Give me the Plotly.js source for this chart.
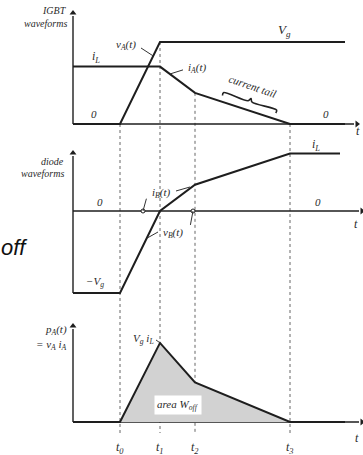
<!DOCTYPE html>
<html><head><meta charset="utf-8">
<script src="https://cdn.plot.ly/plotly-3.0.1.min.js"></script>
<style>html,body{margin:0;padding:0;background:#fff}#chart{width:363px;height:455px}</style>
</head><body><div id="chart"></div>
<script>
// Switching instants (time units) and their labels
const tNames = ['t<sub>0</sub>', 't<sub>1</sub>', 't<sub>2</sub>', 't<sub>3</sub>'];
const tVals = [0, 1, 1.875, 4.25];

// IGBT waveforms (normalised: Vg = 1)
const vA_t = [-1.175, 0, 1, 5.625];
const vA = [0, 0, 1, 1];
const iA_t = [-1.175, 1, 1.875, 4.25, 5.625];
const iA = [0.7, 0.7, 0.38, 0, 0];

// Diode waveform: vB(t) up to t1, then iB(t)
const d_t = [-1.175, 0, 1, 1.875, 4.25, 5.5];
const d_v = [-1, -1, 0, 0.32, 0.7, 0.7];

// Instantaneous IGBT power pA = vA * iA
const p_t = [-1.175, 0, 1, 1.875, 4.25, 5.625];
const p_v = [0, 0, 0.7, 0.35, 0, 0];

// ---- geometry of the three stacked panels (pixels) ----
const W = 363, H = 455;
const X0 = -3, XPX = 40;                 // x range start, pixels per time unit
const panels = {
  y:  {base: 124, scale: 82},            // IGBT
  y2: {base: 211, scale: 82},            // diode
  y3: {base: 422, scale: 113}            // power
};
const yRange = p => [-(H - p.base) / p.scale, p.base / p.scale];
const pxY = (ax, py) => (panels[ax].base - py) / panels[ax].scale;
const pxX = px => px / XPX + X0;
const yPx = (ax, v) => panels[ax].base - v * panels[ax].scale;
const xPx = v => (v - X0) * XPX;

const ink = '#1e1e1e';
const serif = {family: 'Liberation Serif, Times New Roman, serif', color: '#2a2a2a', style: 'italic'};
const f = size => Object.assign({size}, serif);

const traces = [];

// axes: lines from the origin plus a triangular head
const xStart = -1.175;
const axisLines = [
  ['y', pxY('y', 16), pxX(354)],
  ['y2', pxY('y2', 156), pxX(359)],
  ['y3', pxY('y3', 329), pxX(359)]
];
const axisBottoms = {y: 0, y2: pxY('y2', 293), y3: 0};
axisLines.forEach(([ax, yTop, xEnd]) => {
  traces.push({x: [xStart, xStart], y: [axisBottoms[ax], yTop], yaxis: ax, mode: 'lines',
    line: {color: ink, width: 1.4}, hoverinfo: 'skip'});
  traces.push({x: [xStart, xEnd], y: [0, 0], yaxis: ax, mode: 'lines',
    line: {color: ink, width: 1.4}, hoverinfo: 'skip'});
  traces.push({x: [xStart, xEnd + 3 / XPX], y: [yTop + 3 / panels[ax].scale, 0], yaxis: ax,
    mode: 'markers', hoverinfo: 'skip',
    marker: {symbol: ['triangle-up', 'triangle-right'], size: 6, color: ink, line: {width: 0}}});
});

traces.push(
  {x: p_t, y: p_v, yaxis: 'y3', mode: 'lines', fill: 'tozeroy', fillcolor: '#d2d2d2',
   line: {color: ink, width: 2}, hoverinfo: 'skip'},
  {x: vA_t, y: vA, yaxis: 'y', mode: 'lines', line: {color: ink, width: 2}, hoverinfo: 'skip'},
  {x: iA_t, y: iA, yaxis: 'y', mode: 'lines', line: {color: ink, width: 2}, hoverinfo: 'skip'},
  {x: d_t, y: d_v, yaxis: 'y2', mode: 'lines', line: {color: ink, width: 2}, hoverinfo: 'skip'}
);

// small marker circles on the diode time axis
traces.push({x: [0.575, 1.825], y: [0, 0], yaxis: 'y2', mode: 'markers',
  marker: {size: 4, color: '#fff', line: {color: ink, width: 1}}, hoverinfo: 'skip'});

// thin leader lines from labels to curves
const leaders = [
  ['y', 0.525, 0.927, 0.83, 0.83],
  ['y', 1.575, 0.66, 1.25, 0.61],
  ['y2', 1.4, 0.244, 1.75, 0.293],
  ['y2', 0.575, 0.0, 0.66, 0.15],
  ['y2', 0.95, -0.256, 0.68, -0.33],
  ['y2', 1.825, 0.0, 1.76, -0.17],
  ['y3', 0.9, 0.726, 1.0, 0.7]
];
leaders.forEach(([ax, x0, y0, x1, y1]) => traces.push({
  x: [x0, x1], y: [y0, y1], yaxis: ax, mode: 'lines',
  line: {color: '#333', width: 1}, hoverinfo: 'skip'}));

// brace marking the current tail, offset from the t2..t3 segment
(function () {
  const ax = 'y';
  const A = [xPx(tVals[2]), yPx(ax, iA[2])], B = [xPx(tVals[3]), yPx(ax, 0)];
  const dx = B[0] - A[0], dy = B[1] - A[1], L = Math.hypot(dx, dy);
  const u = [dx / L, dy / L], up = [u[1], -u[0]];
  const off = 9, a = 0.27, b = 0.83, h = 3;
  const P = s => [A[0] + dx * s + up[0] * off, A[1] + dy * s + up[1] * off];
  const S = P(a), E = P(b), M = P((a + b) / 2);
  const pts = [
    [S[0] - up[0] * h, S[1] - up[1] * h], S,
    [M[0] - u[0] * 2, M[1] - u[1] * 2], [M[0] + up[0] * h, M[1] + up[1] * h],
    [M[0] + u[0] * 2, M[1] + u[1] * 2], E, [E[0] - up[0] * h, E[1] - up[1] * h]
  ];
  traces.push({x: pts.map(p => pxX(p[0])), y: pts.map(p => pxY(ax, p[1])), yaxis: ax,
    mode: 'lines', line: {color: '#222', width: 1.6, shape: 'spline'}, hoverinfo: 'skip'});
})();

const label = (ax, x, y, text, size, opts) => Object.assign({
  xref: 'x', yref: ax, x, y, text, showarrow: false, font: f(size)
}, opts || {});

const annotations = [
  // IGBT panel
  label('y', pxX(69), pxY('y', 10), 'IGBT', 10, {xanchor: 'right'}),
  label('y', pxX(69), pxY('y', 23), 'waveforms', 10, {xanchor: 'right'}),
  label('y', pxX(284), pxY('y', 30), 'V<sub>g</sub>', 13),
  label('y', pxX(96), pxY('y', 57), 'i<sub>L</sub>', 12),
  label('y', pxX(126), pxY('y', 45), 'v<sub>A</sub>(t)', 11),
  label('y', pxX(197), pxY('y', 68), 'i<sub>A</sub>(t)', 11),
  label('y', pxX(252), pxY('y', 86), 'current tail', 11, {textangle: 19}),
  label('y', pxX(94), pxY('y', 114), '0', 11),
  label('y', pxX(326), pxY('y', 114), '0', 11),
  label('y', pxX(358), pxY('y', 131), 't', 12),
  // diode panel
  label('y2', pxX(66), pxY('y2', 161), 'diode', 10, {xanchor: 'right'}),
  label('y2', pxX(66), pxY('y2', 173), 'waveforms', 10, {xanchor: 'right'}),
  label('y2', pxX(100), pxY('y2', 202), '0', 11),
  label('y2', pxX(318), pxY('y2', 202), '0', 11),
  label('y2', pxX(316), pxY('y2', 145), 'i<sub>L</sub>', 12),
  label('y2', pxX(95), pxY('y2', 282), '\u2212V<sub>g</sub>', 11),
  label('y2', pxX(161), pxY('y2', 193), 'i<sub>B</sub>(t)', 11),
  label('y2', pxX(173), pxY('y2', 233), 'v<sub>B</sub>(t)', 11),
  label('y2', pxX(356), pxY('y2', 224), 't', 12),
  // power panel
  label('y3', pxX(69), pxY('y3', 330), 'p<sub>A</sub>(t)', 11, {xanchor: 'right'}),
  label('y3', pxX(69), pxY('y3', 345), '= v<sub>A</sub> i<sub>A</sub>', 11, {xanchor: 'right'}),
  label('y3', pxX(156), pxY('y3', 339), 'V<sub>g</sub> i<sub>L</sub>', 11, {xanchor: 'right'}),
  label('y3', pxX(178), pxY('y3', 405), 'area W<sub>off</sub>', 11, {bgcolor: '#fff', borderpad: 2}),
  label('y3', pxX(357), pxY('y3', 438), 't', 12)
];
tVals.forEach((t, i) => annotations.push(label('y3', t, pxY('y3', 448), tNames[i], 12)));

// fragment of a slide heading on the left
annotations.push({xref: 'paper', yref: 'paper', x: -0.004, y: (H - 247) / H, xanchor: 'left',
  text: 'off', showarrow: false,
  font: {family: 'Liberation Sans, Arial, sans-serif', size: 22, color: '#111', style: 'italic'}});

// dotted markers for the switching instants, from the IGBT waveform down to the time labels
const tops = [0, 1, iA[2], 0];
const shapes = tVals.map((t, i) => ({
  type: 'line', xref: 'x', yref: 'y', x0: t, x1: t, y0: tops[i], y1: pxY('y', 433),
  line: {color: '#666', width: 1, dash: 'dot'}, layer: 'below'
}));

const hidden = {visible: false, fixedrange: true};
const layout = {
  width: W, height: H, margin: {l: 0, r: 0, t: 0, b: 0},
  paper_bgcolor: '#fff', plot_bgcolor: 'rgba(0,0,0,0)', showlegend: false,
  xaxis: Object.assign({range: [X0, X0 + W / XPX]}, hidden),
  yaxis: Object.assign({range: yRange(panels.y), domain: [0, 1]}, hidden),
  yaxis2: Object.assign({range: yRange(panels.y2), overlaying: 'y'}, hidden),
  yaxis3: Object.assign({range: yRange(panels.y3), overlaying: 'y'}, hidden),
  annotations, shapes
};
Plotly.newPlot('chart', traces, layout, {staticPlot: true, displayModeBar: false});
</script></body></html>
